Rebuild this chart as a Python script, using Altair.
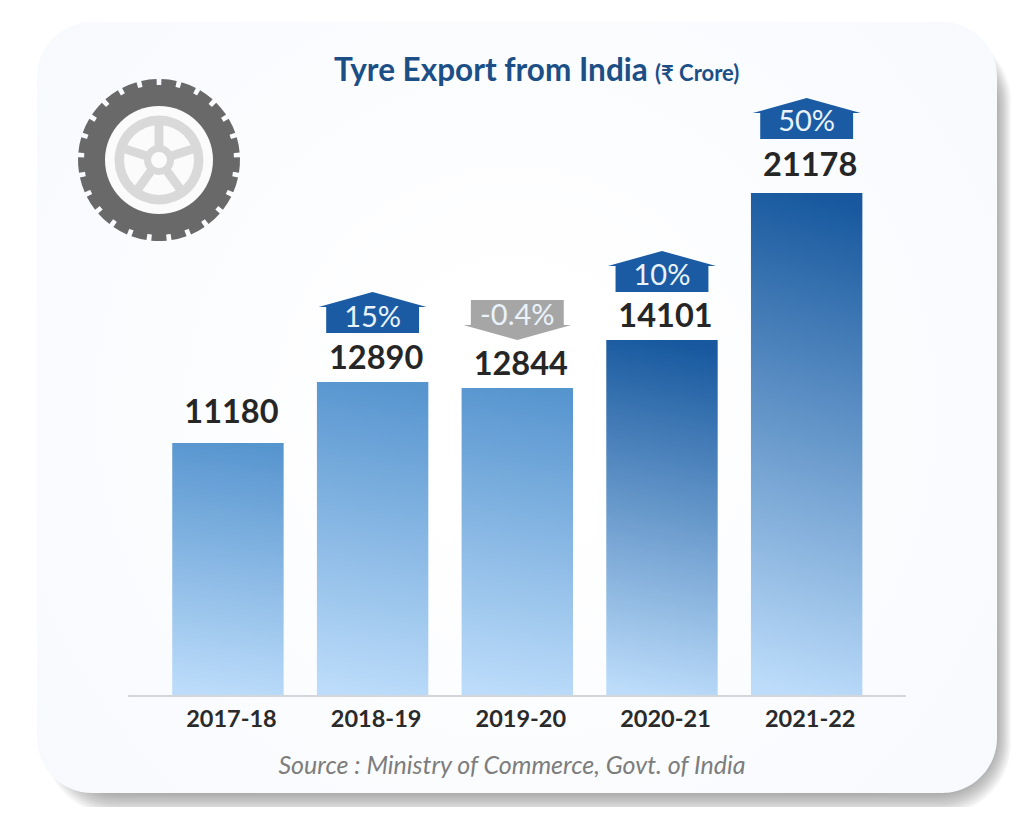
import math
import altair as alt
import pandas as pd

# ---------- chart values ----------
years = ["2017-18", "2018-19", "2019-20", "2020-21", "2021-22"]
exports = [11180, 12890, 12844, 14101, 21178]
changes = [None, "15%", "-0.4%", "10%", "50%"]
title_main = "Tyre Export from India"
title_unit = "(₹ Crore)"
source = "Source : Ministry of Commerce, Govt. of India"

# ---------- layout / style (pixels inside the 1008x799 view) ----------
W, H = 1008, 799
BASE_Y = 688
FONT = "Lato, Noto Sans, sans-serif"
label_gap = {"2017-18": 30, "2018-19": 23, "2019-20": 23, "2020-21": 23, "2021-22": 27}
badge_gap = {"2018-19": 49, "2019-20": 48, "2020-21": 48, "2021-22": 54}
badge_text_gap = {"2018-19": 64, "2019-20": 72, "2020-21": 64, "2021-22": 71}

df = pd.DataFrame({"year": years, "value": exports, "change": changes})
one = pd.DataFrame({"a": [0]})

x = alt.X(
    "year:N",
    scale=alt.Scale(domain=years, range=[147.6, 871], paddingInner=0.23, paddingOuter=0.115),
    axis=alt.Axis(
        title=None, domain=False, ticks=False, grid=False, labelAngle=0, offset=BASE_Y - H,
        labelFont=FONT, labelFontSize=23.5, labelFontWeight="bold", labelColor="#2a2a2a",
        labelOffset=3.5, labelPadding=11, zindex=1,
    ),
)
# the picture's bars are not strictly proportional, so the scale is piecewise
y = alt.Y(
    "value:Q",
    axis=None,
    scale=alt.Scale(
        domain=[0, 11180, 12844, 12890, 14101, 21178],
        range=[BASE_Y, 435, 380, 374, 332, 185],
        nice=False, zero=False,
    ),
)


def rrect(x0, x1, y0, y1, r, **kw):
    return alt.Chart(one).mark_rect(cornerRadius=r, **kw).encode(
        x=alt.value(x0), x2=alt.value(x1), y=alt.value(y0), y2=alt.value(y1)
    )


layers = []

# card shadow
for i in range(18):
    g = 18 - i
    layers.append(rrect(50 - g * 0.8, 988 + g * 0.85, 40 - g, 785 + g * 1.25, 58 + g * 0.8,
                        color="#303030", opacity=0.024))
# card
layers.append(rrect(29, 989, 14, 785, 55, color={
    "gradient": "radial", "x1": 0.5, "y1": 0.5, "r1": 0.1, "x2": 0.5, "y2": 0.5, "r2": 0.75,
    "stops": [{"offset": 0, "color": "#ffffff"}, {"offset": 1, "color": "#f5f8fd"}],
}))

# tyre
CX, CY = 151, 152
def arcs(rows, color):
    d = pd.DataFrame(rows, columns=["t0", "t1", "r0", "r1"])
    return alt.Chart(d).mark_arc(color=color, opacity=1).encode(
        x=alt.value(CX), y=alt.value(CY),
        theta=alt.Theta("t0:Q", scale=None, stack=None),
        theta2=alt.Theta2("t1:Q"),
        radius=alt.Radius("r1:Q", scale=None),
        radius2=alt.Radius2("r0:Q"),
    )
TAU = 2 * math.pi
n_lugs = 25
lug = [[i * TAU / n_lugs + 0.03, (i + 1) * TAU / n_lugs - 0.03, 60, 81] for i in range(n_lugs)]
layers.append(arcs(lug, "#696969"))
layers.append(arcs([[0, TAU, 50, 75]], "#696969"))
layers.append(arcs([[0, TAU, 0, 54]], "#fbfbfc"))
layers.append(arcs([[0, TAU, 35, 44.5]], "#d9d9d9"))
spokes = pd.DataFrame({"a": [0, 72, 144, 216, 288]})
layers.append(alt.Chart(spokes).mark_point(
    shape="M-0.11,-1H0.11V-0.3H-0.11Z", filled=True, size=6400, opacity=1, color="#d9d9d9", strokeWidth=0
).encode(x=alt.value(CX), y=alt.value(CY), angle=alt.Angle("a:Q", scale=None)))
layers.append(arcs([[0, TAU, 8, 15]], "#d9d9d9"))

# bars
bar_styles = [
    (["2017-18", "2018-19", "2019-20"], "#5795cf"),
    (["2020-21", "2021-22"], "#17589e"),
]
for names, top in bar_styles:
    layers.append(
        alt.Chart(df).transform_filter(alt.FieldOneOfPredicate(field="year", oneOf=names)).mark_bar(color={
            "gradient": "linear", "x1": 0.53, "y1": 0, "x2": 0.47, "y2": 1,
            "stops": [{"offset": 0, "color": top}, {"offset": 1, "color": "#bcdcfa"}],
        }).encode(x=x, y=y)
    )

# baseline
layers.append(alt.Chart(one).mark_rule(color="#d3d6da", strokeWidth=2).encode(
    x=alt.value(120), x2=alt.value(898), y=alt.value(BASE_Y)))

HOUSE = "M0,-0.76L1,-0.48H0.86V0H-0.86V-0.48H-1Z"
ARROW = "M-0.86,-0.74H0.86V-0.28H1L0,0L-1,-0.28H-0.86Z"
for _, row in df.iterrows():
    name = row["year"]
    sel = alt.datum.year == name
    layers.append(alt.Chart(df).transform_filter(sel).mark_text(
        font=FONT, fontSize=32.5, fontWeight="bold", color="#262626", baseline="middle",
        dx=3.5, dy=-label_gap[name],
    ).encode(x=x, y=y, text="value:N"))
    if row["change"] is None:
        continue
    down = row["change"].startswith("-")
    layers.append(alt.Chart(df).transform_filter(sel).mark_point(
        shape=ARROW if down else HOUSE, filled=True, size=11664, opacity=1, strokeWidth=0,
        color="#a6a6a6" if down else "#1a5ba3", yOffset=-badge_gap[name],
    ).encode(x=x, y=y))
    layers.append(alt.Chart(df).transform_filter(sel).mark_text(
        font=FONT, fontSize=29, color="#eaf3fb", baseline="middle", dy=-badge_text_gap[name],
    ).encode(x=x, y=y, text="change:N"))

# title and source
def label(txt, px, py, **kw):
    return alt.Chart(one).mark_text(font=FONT, baseline="middle", **kw).encode(
        x=alt.value(px), y=alt.value(py), text=alt.value(txt))

layers.append(label(title_main, 326, 64, align="left", fontSize=31.5, fontWeight="bold", color="#1c4f86"))
layers.append(label(title_unit, 647, 66, align="left", fontSize=22, fontWeight="bold", color="#1c4f86"))
layers.append(label(source, 504, 758, align="center", fontSize=25, fontStyle="italic", color="#7d7d7d"))

chart = alt.layer(*layers).properties(
    width=W, height=H, padding=0, background="#ffffff",
    autosize=alt.AutoSizeParams(type="none"),
).configure_view(stroke=None)

chart.save("out.html", embed_options={"renderer": "svg", "actions": False})
